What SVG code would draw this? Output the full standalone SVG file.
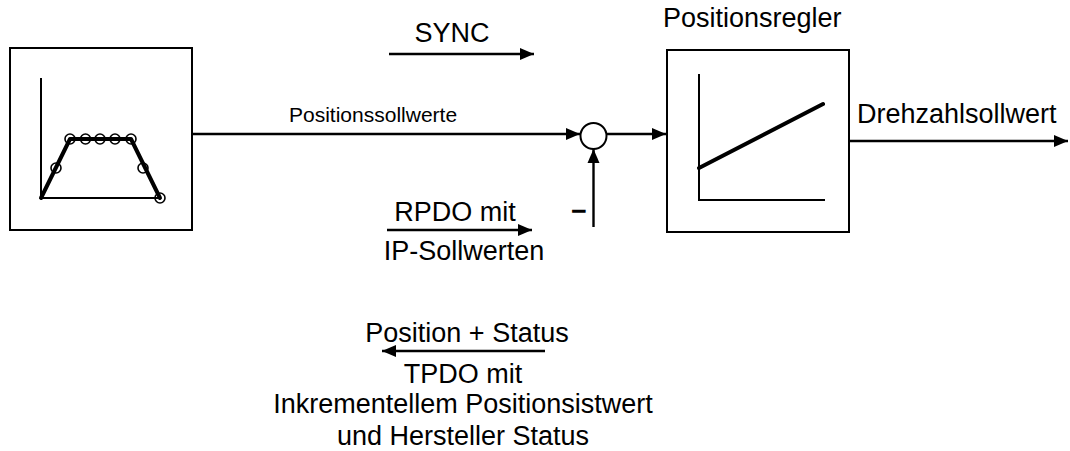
<svg xmlns="http://www.w3.org/2000/svg" width="1070" height="451" viewBox="0 0 1070 451">
<style>
.box{fill:#fff;stroke:#000;stroke-width:2}
.ax{fill:none;stroke:#000;stroke-width:2}
.thick{fill:none;stroke:#000;stroke-width:4;stroke-linecap:round;stroke-linejoin:round}
.pt{fill:none;stroke:#000;stroke-width:1.6}
.ln{fill:none;stroke:#000;stroke-width:2.4}
text{font-family:"Liberation Sans",Arial,sans-serif;font-size:27px;fill:#000}
.sm{font-size:21px}
.c{text-anchor:middle}
</style>
<defs>
<marker id="ah" viewBox="0 0 14 14" refX="14" refY="7" markerWidth="14" markerHeight="14" markerUnits="userSpaceOnUse" orient="auto">
<path d="M0,1 L14,7 L0,13 Z" fill="#000"/>
</marker>
</defs>
<g id="setpoint-generator">
<rect class="box" x="10" y="48" width="182" height="182"/>
<polyline class="ax" points="41,78 41,198 160,198"/>
<polyline class="thick" points="41,198 70,139 131,139 160,198"/>
<circle class="pt" cx="70" cy="139" r="5"/>
<circle class="pt" cx="85.5" cy="139" r="5"/>
<circle class="pt" cx="100" cy="139" r="5"/>
<circle class="pt" cx="115" cy="139" r="5"/>
<circle class="pt" cx="131" cy="139" r="5"/>
<circle class="pt" cx="56" cy="168" r="5"/>
<circle class="pt" cx="143" cy="168" r="5"/>
<circle class="pt" cx="160" cy="198" r="5"/>
</g>
<g id="summing-junction">
<circle cx="593.5" cy="136" r="13" fill="#fff" stroke="#000" stroke-width="2"/>
<text x="579" y="220" class="c" style="font-weight:bold">−</text>
</g>
<g id="positionsregler">
<text x="663" y="27">Positionsregler</text>
<rect class="box" x="667" y="50" width="182" height="182"/>
<polyline class="ax" points="699,74 699,200 825,200"/>
<line class="thick" x1="699" y1="168" x2="823" y2="104"/>
</g>
<g id="connectors">
<line class="ln" x1="192" y1="134" x2="580" y2="134" marker-end="url(#ah)"/>
<line class="ln" x1="606.5" y1="134" x2="666" y2="134" marker-end="url(#ah)"/>
<line class="ln" x1="593.5" y1="227" x2="593.5" y2="149" marker-end="url(#ah)"/>
<line class="ln" x1="849" y1="141" x2="1068" y2="141" marker-end="url(#ah)"/>
<line class="ln" x1="389" y1="54" x2="534" y2="54" marker-end="url(#ah)"/>
<line class="ln" x1="387" y1="230" x2="532" y2="230" marker-end="url(#ah)"/>
<line class="ln" x1="545" y1="351" x2="382" y2="351" marker-end="url(#ah)"/>
</g>
<g id="labels">
<text x="452" y="42" class="c">SYNC</text>
<text x="289" y="122" class="sm">Positionssollwerte</text>
<text x="857" y="123">Drehzahlsollwert</text>
<text x="455" y="221" class="c">RPDO mit</text>
<text x="464" y="260" class="c">IP-Sollwerten</text>
<text x="467" y="342" class="c">Position + Status</text>
<text x="463" y="383" class="c">TPDO mit</text>
<text x="463" y="413" class="c">Inkrementellem Positionsistwert</text>
<text x="463" y="445" class="c">und Hersteller Status</text>
</g>
</svg>
